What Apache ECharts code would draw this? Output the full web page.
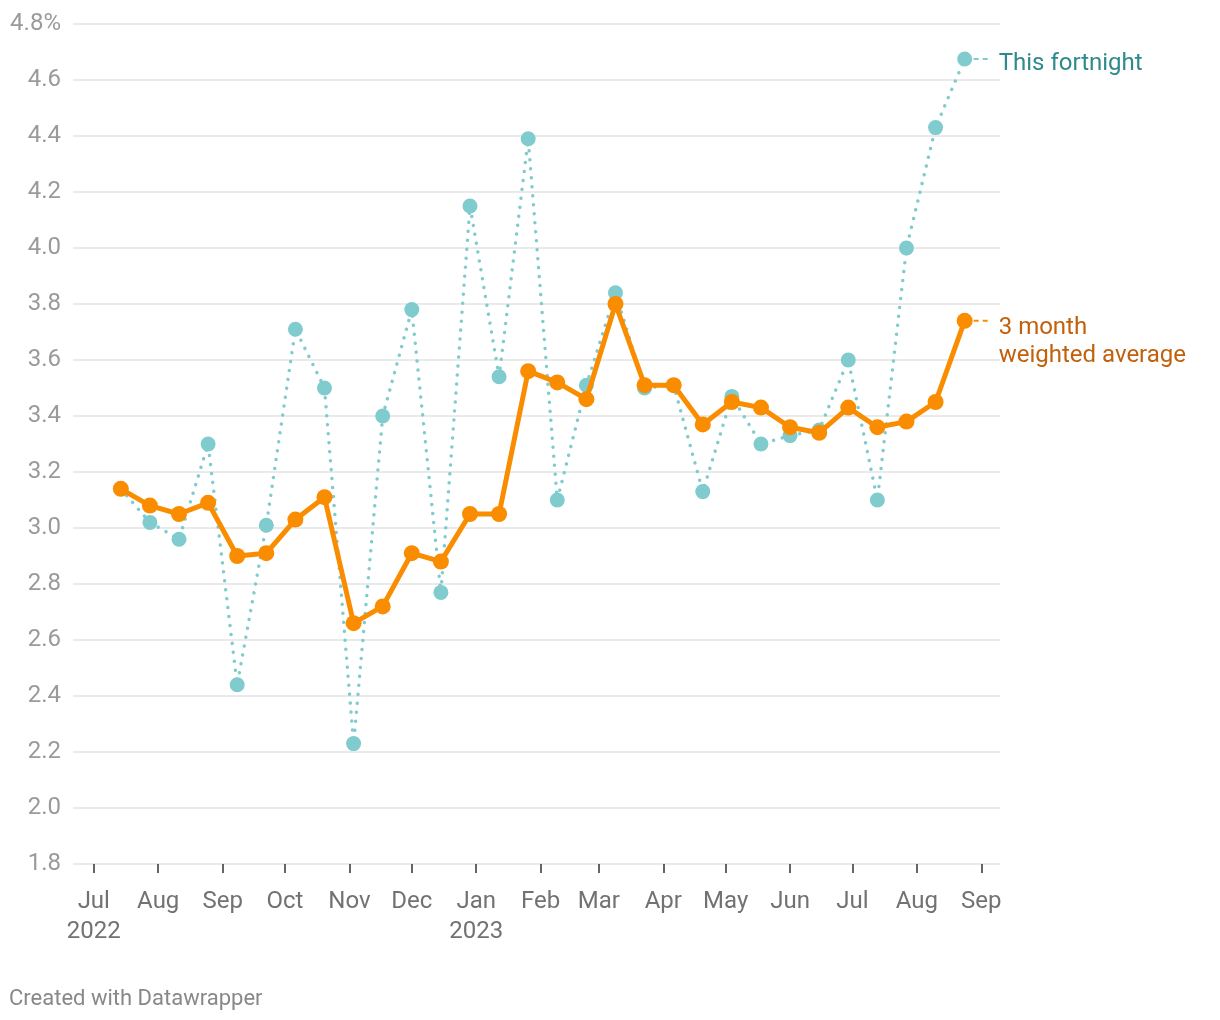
<!DOCTYPE html>
<html>
<head>
<meta charset="utf-8">
<script src="https://cdn.jsdelivr.net/npm/echarts@6/dist/echarts.min.js"></script>
<style>
html,body{margin:0;padding:0;background:#fff;}
#chart{width:1220px;height:1020px;}
</style>
</head>
<body>
<div id="chart"></div>
<script>
// ---- data ----
const dates = ['2022-07-14','2022-07-28','2022-08-11','2022-08-25','2022-09-08','2022-09-22','2022-10-06','2022-10-20','2022-11-03','2022-11-17','2022-12-01','2022-12-15','2022-12-29','2023-01-12','2023-01-26','2023-02-09','2023-02-23','2023-03-09','2023-03-23','2023-04-06','2023-04-20','2023-05-04','2023-05-18','2023-06-01','2023-06-15','2023-06-29','2023-07-13','2023-07-27','2023-08-10','2023-08-24'];
const thisFortnight = [3.14,3.02,2.96,3.30,2.44,3.01,3.71,3.50,2.23,3.40,3.78,2.77,4.15,3.54,4.39,3.10,3.51,3.84,3.50,3.51,3.13,3.47,3.30,3.33,3.35,3.60,3.10,4.00,4.43,4.675];
const weightedAvg = [3.14,3.08,3.05,3.09,2.90,2.91,3.03,3.11,2.66,2.72,2.91,2.88,3.05,3.05,3.56,3.52,3.46,3.80,3.51,3.51,3.37,3.45,3.43,3.36,3.34,3.43,3.36,3.38,3.45,3.74];
const tickMonths = ['2022-07-01','2022-08-01','2022-09-01','2022-10-01','2022-11-01','2022-12-01','2023-01-01','2023-02-01','2023-03-01','2023-04-01','2023-05-01','2023-06-01','2023-07-01','2023-08-01','2023-09-01'];
const tickLabels = ['Jul\n2022','Aug','Sep','Oct','Nov','Dec','Jan\n2023','Feb','Mar','Apr','May','Jun','Jul','Aug','Sep'];
const seriesNames = ['This fortnight','3 month\nweighted average'];
const xRange = ['2022-06-21','2023-09-10'];
const yMin = 1.8, yMax = 4.8, yStep = 0.2;

// ---- helpers ----
const ts = s => { const [y,m,d] = s.split('-').map(Number); return Date.UTC(y, m-1, d); };
const DAY = 86400000;
const tickTs = tickMonths.map(ts);
const labelFor = {};
tickTs.forEach((t,i)=>{ labelFor[t] = tickLabels[i]; });
const pts = vals => vals.map((v,i)=>[ts(dates[i]), v]);
const connector = vals => {
  const t = ts(dates[dates.length-1]); const v = vals[vals.length-1];
  return [[t, v],[t + 13*DAY, v]];
};

const TEAL = '#7fcbcd', TEAL_TXT = '#2e8a8c';
const ORANGE = '#fa8c00', ORANGE_TXT = '#c2600b';
const FONT = 'Roboto';
const FS = 24;

const chart = echarts.init(document.getElementById('chart'), null, {renderer:'canvas'});
chart.setOption({
  animation: false,
  backgroundColor: '#fff',
  textStyle: {fontFamily: FONT},
  title: {
    text: 'Created with Datawrapper',
    left: 4, top: 983,
    textStyle: {fontFamily: FONT, fontSize: 22, fontWeight: 'normal', color: '#888'}
  },
  grid: {left: 73, right: 220, top: 24, bottom: 156, containLabel: false},
  xAxis: {
    type: 'value',
    min: ts(xRange[0]), max: ts(xRange[1]),
    axisLine: {show: false},
    splitLine: {show: false},
    axisTick: {show: true, customValues: tickTs, length: 9, lineStyle: {color: '#333', width: 1.5}},
    axisLabel: {
      customValues: tickTs,
      formatter: v => labelFor[v] || '',
      color: '#727272', fontSize: FS, fontFamily: FONT, lineHeight: 30, margin: 23
    }
  },
  yAxis: {
    type: 'value',
    min: yMin, max: yMax, interval: yStep,
    axisLine: {show: false}, axisTick: {show: false},
    splitLine: {lineStyle: {color: '#e3e3e3', width: 1.5}},
    axisLabel: {
      formatter: v => Math.abs(v - yMax) < 1e-6 ? v.toFixed(1) + '%' : v.toFixed(1),
      color: '#9a9a9a', fontSize: FS, fontFamily: FONT, margin: 12
    }
  },
  series: [
    {
      name: seriesNames[0], type: 'line', data: pts(thisFortnight),
      symbol: 'circle', symbolSize: 15, showAllSymbol: true,
      itemStyle: {color: TEAL},
      lineStyle: {color: TEAL, width: 3.5, type: [0.01, 9], cap: 'round'},
      z: 2
    },
    {
      type: 'line', data: connector(thisFortnight), symbol: 'none', silent: true,
      lineStyle: {color: TEAL, width: 2, type: [5, 4]},
      endLabel: {show: true, formatter: seriesNames[0], color: TEAL_TXT, fontSize: FS,
        fontFamily: FONT, distance: 7, align: 'left', verticalAlign: 'middle', offset: [0, 5]},
      z: 1
    },
    {
      name: seriesNames[1], type: 'line', data: pts(weightedAvg),
      symbol: 'circle', symbolSize: 16, showAllSymbol: true,
      itemStyle: {color: ORANGE},
      lineStyle: {color: ORANGE, width: 5},
      z: 4
    },
    {
      type: 'line', data: connector(weightedAvg), symbol: 'none', silent: true,
      lineStyle: {color: ORANGE, width: 2, type: [5, 4]},
      endLabel: {show: true, formatter: seriesNames[1], color: ORANGE_TXT, fontSize: FS,
        fontFamily: FONT, distance: 7, align: 'left', verticalAlign: 'top', lineHeight: 28, offset: [0, -7]},
      z: 3
    }
  ]
});
</script>
</body>
</html>
